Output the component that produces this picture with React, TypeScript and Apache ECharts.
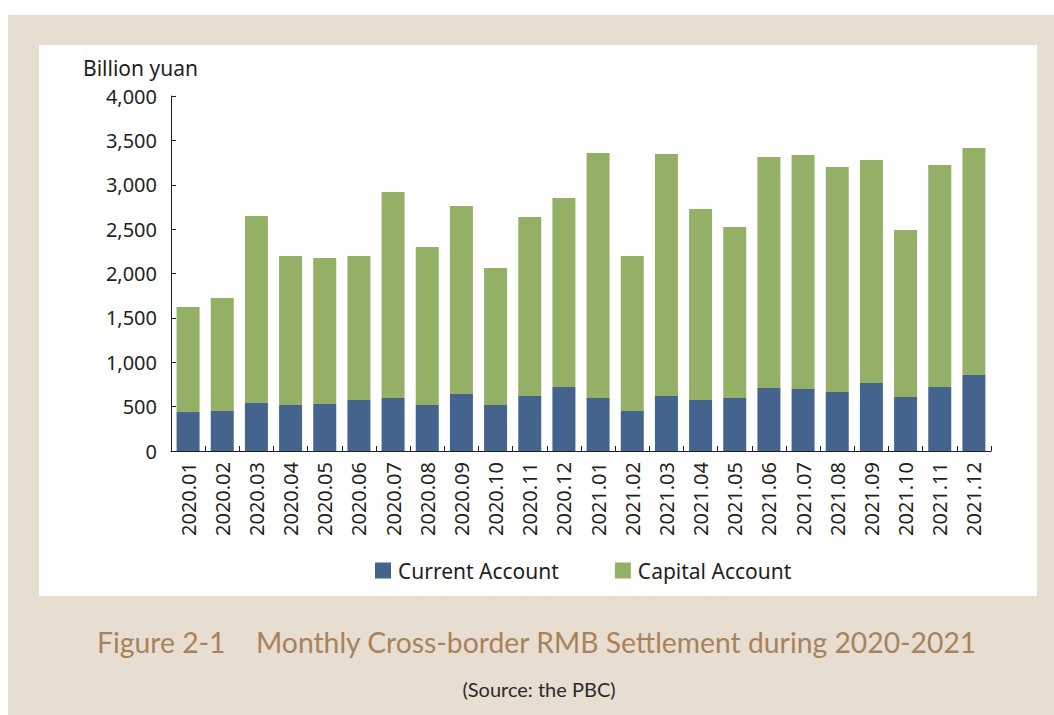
import React, { useEffect, useRef } from "react";
import * as echarts from "echarts";

const months = [
  "2020.01", "2020.02", "2020.03", "2020.04", "2020.05", "2020.06",
  "2020.07", "2020.08", "2020.09", "2020.10", "2020.11", "2020.12",
  "2021.01", "2021.02", "2021.03", "2021.04", "2021.05", "2021.06",
  "2021.07", "2021.08", "2021.09", "2021.10", "2021.11", "2021.12",
];

const currentAccount = [
  439, 451, 541, 518, 530, 575, 597, 518, 642, 518, 620, 721,
  597, 451, 620, 575, 597, 710, 699, 665, 766, 608, 721, 856,
];

const capitalAccount = [
  1184, 1273, 2107, 1679, 1645, 1622, 2321, 1781, 2119, 1544, 2017, 2130,
  2761, 1746, 2726, 2152, 1927, 2603, 2636, 2535, 2513, 1882, 2502, 2558,
];

const yTicks = [0, 500, 1000, 1500, 2000, 2500, 3000, 3500, 4000];

const seriesNames = ["Current Account", "Capital Account"];

const BLUE = "#44648e";
const GREEN = "#94b066";
const INK = "#231f20";
const BEIGE = "#e8ddd1";
const BROWN = "#a8825a";
const FONT = "'Noto Sans', 'Open Sans', sans-serif";

export default function App() {
  const ref = useRef<HTMLDivElement | null>(null);

  useEffect(() => {
    if (!ref.current) return;
    const chart = echarts.init(ref.current, undefined, { renderer: "svg" });
    chart.setOption({
      animation: false,
      backgroundColor: "transparent",
      graphic: [
        { type: "rect", z: -10, shape: { x: 8, y: 15, width: 1046, height: 700 }, style: { fill: BEIGE } },
        { type: "rect", z: -9, shape: { x: 39, y: 45, width: 998, height: 551 }, style: { fill: "#ffffff" } },
        {
          type: "text", x: 83, y: 68,
          style: { text: "Billion yuan", font: `21px ${FONT}`, fill: INK, align: "left", verticalAlign: "middle", textAlign: "left", textVerticalAlign: "middle" },
        },
        {
          type: "text", x: 97, y: 642,
          style: { text: "Figure 2-1", font: `28.3px Lato, ${FONT}`, fill: BROWN, align: "left", verticalAlign: "middle", textAlign: "left", textVerticalAlign: "middle" },
        },
        {
          type: "text", x: 256, y: 642,
          style: { text: "Monthly Cross-border RMB Settlement during 2020-2021", font: `28.3px Lato, ${FONT}`, fill: BROWN, align: "left", verticalAlign: "middle", textAlign: "left", textVerticalAlign: "middle" },
        },
        {
          type: "text", x: 539, y: 689,
          style: { text: "(Source: the PBC)", font: `20px Lato, ${FONT}`, fill: "#2a2a2a", align: "center", verticalAlign: "middle", textAlign: "center", textVerticalAlign: "middle" },
        },
      ],
      legend: {
        data: seriesNames,
        left: 370,
        top: 555,
        itemWidth: 16,
        itemHeight: 16,
        itemGap: 56,
        icon: "rect",
        textStyle: { fontFamily: FONT, fontSize: 21, color: INK, padding: [0, 0, 0, 2] },
      },
      grid: { left: 171, top: 96, width: 820, height: 355, containLabel: false },
      xAxis: {
        type: "category",
        data: months,
        axisLine: { show: true, lineStyle: { color: INK, width: 1 } },
        axisTick: { show: true, inside: true, length: 5, lineStyle: { color: INK } },
        axisLabel: { rotate: 90, margin: 11, fontFamily: FONT, fontSize: 20, color: INK, interval: 0 },
      },
      yAxis: {
        type: "value",
        min: yTicks[0],
        max: yTicks[yTicks.length - 1],
        interval: 500,
        axisLine: { show: true, lineStyle: { color: INK, width: 1 } },
        axisTick: { show: true, inside: true, length: 5, lineStyle: { color: INK } },
        splitLine: { show: false },
        axisLabel: {
          margin: 14,
          fontFamily: FONT,
          fontSize: 20,
          color: INK,
          formatter: (v: number) => v.toLocaleString("en-US"),
        },
      },
      series: [
        {
          name: seriesNames[0],
          type: "bar",
          stack: "total",
          data: currentAccount,
          barWidth: 23,
          itemStyle: { color: BLUE },
        },
        {
          name: seriesNames[1],
          type: "bar",
          stack: "total",
          data: capitalAccount,
          barWidth: 23,
          itemStyle: { color: GREEN },
        },
      ],
    });
    return () => chart.dispose();
  }, []);

  return (
    <div
      ref={ref}
      style={{ position: "absolute", left: 0, top: 0, width: 1054, height: 715 }}
    />
  );
}
